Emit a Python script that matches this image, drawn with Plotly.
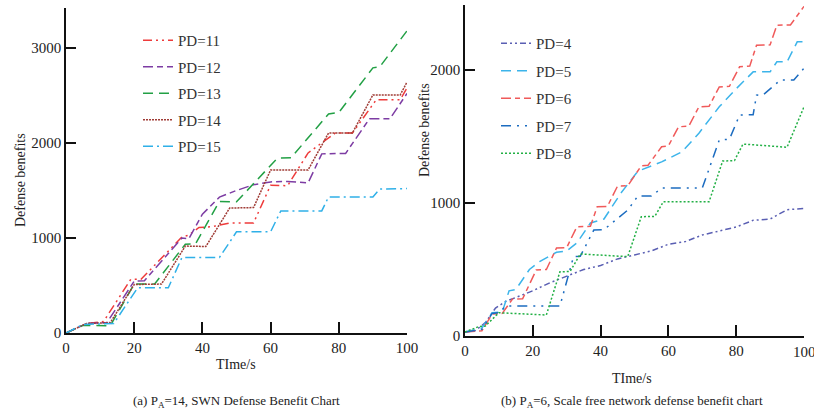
import plotly.graph_objects as go

# ---------------- Data: (a) SWN, P_A = 14 ----------------
a_names = ["PD=11", "PD=12", "PD=13", "PD=14", "PD=15"]
a_x11 = [0, 6, 11, 19, 22, 34, 36, 39, 43, 48, 55, 60, 65, 71, 79, 84, 91, 98, 100]
a_y11 = [0, 100, 120, 565, 565, 1010, 1030, 1110, 1120, 1158, 1158, 1555, 1550, 1895, 2105, 2105, 2455, 2455, 2580]
a_x12 = [0, 6, 12, 20, 23, 34, 36, 40, 45, 50, 55, 60, 65, 71, 75, 82, 89, 95, 100]
a_y12 = [0, 100, 110, 545, 550, 1000, 990, 1250, 1430, 1500, 1560, 1590, 1595, 1580, 1885, 1890, 2255, 2255, 2520]
a_x13 = [0, 5, 13, 20, 26, 35, 38, 45, 50, 62, 66, 77, 80, 90, 92, 100]
a_y13 = [0, 80, 77, 515, 515, 935, 940, 1385, 1380, 1840, 1845, 2305, 2320, 2790, 2800, 3180]
a_x14 = [0, 6, 13, 20, 28, 35, 41, 48, 55, 60, 71, 77, 84, 90, 98, 100]
a_y14 = [0, 100, 110, 510, 515, 915, 910, 1315, 1320, 1715, 1716, 2105, 2105, 2505, 2505, 2640]
a_x15 = [0, 5, 14, 21, 30, 34, 45, 50, 60, 63, 75, 77, 90, 92, 100]
a_y15 = [0, 90, 100, 475, 475, 795, 795, 1065, 1065, 1285, 1285, 1432, 1432, 1515, 1520]

# ---------------- Data: (b) scale-free, P_A = 6 ----------------
b_names = ["PD=4", "PD=5", "PD=6", "PD=7", "PD=8"]
b_x4 = [0, 3, 6, 9, 12, 16, 20, 25, 30, 35, 40, 45, 50, 55, 60, 65, 70, 75, 80, 85, 90, 95, 100]
b_y4 = [30, 40, 100, 210, 260, 300, 340, 400, 450, 500, 530, 580, 610, 640, 690, 710, 760, 790, 820, 870, 880, 950, 960]
b_x5 = [0, 5, 8, 11, 13, 15, 19, 22, 27, 30, 33, 37, 41, 46, 51, 58, 64, 69, 75, 80, 85, 90, 92, 95, 98, 100]
b_y5 = [30, 60, 175, 180, 340, 350, 500, 560, 630, 640, 700, 850, 880, 1075, 1240, 1310, 1385, 1526, 1724, 1860, 1987, 1987, 2063, 2063, 2213, 2213]
b_x6 = [0, 5, 8, 11, 14, 17, 21, 24, 27, 30, 33, 37, 39, 42, 45, 48, 52, 54, 58, 60, 63, 66, 69, 72, 75, 78, 81, 84, 86, 90, 92, 96, 100]
b_y6 = [30, 40, 165, 170, 278, 280, 496, 500, 662, 665, 822, 825, 972, 975, 1128, 1130, 1280, 1285, 1424, 1430, 1574, 1578, 1724, 1728, 1874, 1878, 2025, 2030, 2188, 2190, 2338, 2340, 2480]
b_x7 = [0, 5, 8, 10, 12, 17, 28, 32, 34, 38, 41, 48, 51, 55, 58, 70, 75, 78, 81, 85, 86, 88, 93, 97, 100]
b_y7 = [30, 50, 170, 175, 225, 225, 225, 596, 600, 797, 800, 947, 1053, 1053, 1113, 1113, 1474, 1480, 1662, 1665, 1812, 1815, 1925, 1925, 2015]
b_x8 = [0, 4, 6, 10, 24, 28, 31, 34, 48, 52, 56, 58.5, 72, 76, 79.5, 82, 95, 100]
b_y8 = [30, 70, 75, 175, 158, 483, 485, 617, 597, 897, 900, 1010, 1010, 1316, 1320, 1444, 1420, 1724]

x_ticks = [0, 20, 40, 60, 80, 100]
x_ticktext = ["0", "20", "40", "60", "80", "100"]
a_y_ticks = [0, 1000, 2000, 3000]
b_y_ticks = [0, 1000, 2000]

a_series = [(a_x11, a_y11), (a_x12, a_y12), (a_x13, a_y13), (a_x14, a_y14), (a_x15, a_y15)]
b_series = [(b_x4, b_y4), (b_x5, b_y5), (b_x6, b_y6), (b_x7, b_y7), (b_x8, b_y8)]

a_styles = [
    ("#ee3b3b", "9px,4px,2px,4px,2px,4px"),
    ("#7d3ca3", "10px,4px,6px,4px"),
    ("#22a045", "10px,6px"),
    ("#a03c36", "2px,1px"),
    ("#2fb0e8", "10px,4px,2px,4px"),
]
b_styles = [
    ("#5a5fb3", "6px,3px,2px,3px,2px,3px"),
    ("#3cb4ea", "10px,6px"),
    ("#f05a5a", "10px,4px,5px,4px"),
    ("#1c6cc0", "10px,6px,2px,6px,2px,6px"),
    ("#22b045", "2px,2px"),
]

FONT = "Liberation Serif"
W, H = 814, 412

def py(p):
    return (H - p) / H

fig = go.Figure()
for i, ((xs, ys), (c, d)) in enumerate(zip(a_series, a_styles)):
    fig.add_trace(go.Scatter(x=xs, y=ys, mode="lines", name=a_names[i],
                             line=dict(color=c, dash=d, width=1.5),
                             xaxis="x", yaxis="y", legend="legend",
                             legendgroup="a%d" % i))
for i, ((xs, ys), (c, d)) in enumerate(zip(b_series, b_styles)):
    fig.add_trace(go.Scatter(x=xs, y=ys, mode="lines", name=b_names[i],
                             line=dict(color=c, dash=d, width=1.5),
                             xaxis="x2", yaxis="y2", legend="legend2",
                             legendgroup="b%d" % i))

axis_common = dict(showgrid=False, zeroline=False, showline=True, linecolor="#111",
                   linewidth=1.5, ticks="inside", tickcolor="#111", tickwidth=1.5,
                   automargin=False,
                   tickfont=dict(family=FONT, size=15, color="#222"))

# the right panel's last tick label sits on the page edge; plotly would hide it,
# so it is written as an annotation at x=100 on that axis instead
b_ticktext = x_ticktext[:-1] + [""]

fig.update_layout(
    template="none",
    width=W, height=H, margin=dict(l=0, r=0, t=0, b=0, autoexpand=False),
    plot_bgcolor="white", paper_bgcolor="white",
    font=dict(family=FONT, size=14, color="#222"),
    xaxis=dict(domain=[66 / W, 407 / W], range=[0, 100], tickvals=x_ticks,
               ticktext=x_ticktext, ticklen=11, anchor="y", **axis_common),
    yaxis=dict(domain=[py(333), py(8)], range=[0, 3420], tickvals=a_y_ticks, ticklen=10,
               anchor="x", **axis_common),
    xaxis2=dict(domain=[465 / W, 804 / W], range=[0, 100], tickvals=x_ticks,
                ticktext=b_ticktext, ticklen=11, anchor="y2", **axis_common),
    yaxis2=dict(domain=[py(336), py(5)], range=[0, 2490], tickvals=b_y_ticks, ticklen=10,
                anchor="x2", **axis_common),
    legend=dict(x=138 / W, y=py(24), xanchor="left", yanchor="top",
                bgcolor="rgba(0,0,0,0)", tracegroupgap=4,
                font=dict(family=FONT, size=15, color="#333")),
    legend2=dict(x=496 / W, y=py(27), xanchor="left", yanchor="top",
                 bgcolor="rgba(0,0,0,0)", tracegroupgap=5,
                 font=dict(family=FONT, size=15, color="#333")),
    showlegend=True,
)

ann = [
    dict(text="Defense benefits", x=20 / W, y=py(180), textangle=-90),
    dict(text="Defense benefits", x=424 / W, y=py(130), textangle=-90),
    dict(text="TIme/s", x=236 / W, y=py(364)),
    dict(text="TIme/s", x=632 / W, y=py(378)),
    dict(text="(a) P<sub>A</sub>=14, SWN Defense Benefit Chart", x=236 / W, y=py(401), size=13),
    dict(text="(b) P<sub>A</sub>=6, Scale free network defense benefit chart", x=632 / W, y=py(401), size=13),
]
for a in ann:
    fig.add_annotation(text=a["text"], x=a["x"], y=a["y"], xref="paper", yref="paper",
                       showarrow=False, textangle=a.get("textangle", 0),
                       xanchor="center", yanchor="middle",
                       font=dict(family=FONT, size=a.get("size", 14), color="#222"))

fig.add_annotation(text=x_ticktext[-1], x=x_ticks[-1], xref="x2", y=py(352), yref="paper",
                   showarrow=False, xanchor="center", yanchor="middle",
                   font=dict(family=FONT, size=15, color="#222"))

fig.write_html("out.html")
